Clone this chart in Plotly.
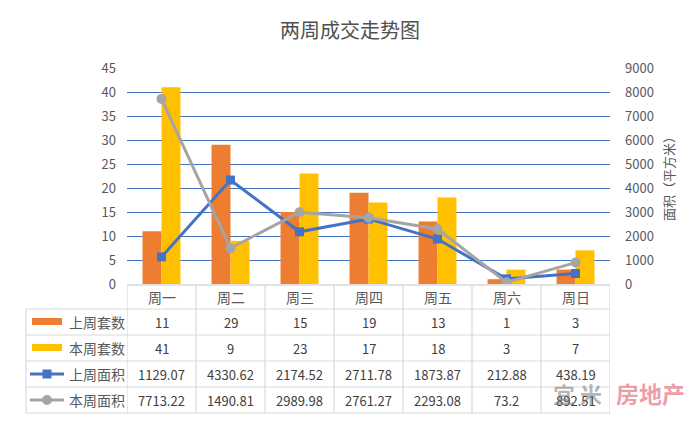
import plotly.graph_objects as go

categories = ["周一", "周二", "周三", "周四", "周五", "周六", "周日"]
last_week_units = [11, 29, 15, 19, 13, 1, 3]
this_week_units = [41, 9, 23, 17, 18, 3, 7]
last_week_area = [1129.07, 4330.62, 2174.52, 2711.78, 1873.87, 212.88, 438.19]
this_week_area = [7713.22, 1490.81, 2989.98, 2761.27, 2293.08, 73.2, 892.51]
series_names = ["上周套数", "本周套数", "上周面积", "本周面积"]
left_ticks = list(range(0, 50, 5))
right_ticks = list(range(0, 10000, 1000))

ORANGE = "#ED7D31"
YELLOW = "#FFC000"
BLUE = "#4472C4"
GRAY = "#A5A5A5"
TXT = "#595959"
FONT = "Noto Sans CJK SC"

# pixel geometry helpers (plot area: x 127..610, y 68..284)
PL, PR, PT, PB = 127, 610, 68, 284
def py(p):
    return (PB - p) / (PB - PT)
def px(p):
    return (p - PL) / (PR - PL)

fig = go.Figure()
fig.add_trace(go.Bar(x=categories, y=last_week_units, name=series_names[0],
                     marker=dict(color=ORANGE, line=dict(width=0)), yaxis="y"))
fig.add_trace(go.Bar(x=categories, y=this_week_units, name=series_names[1],
                     marker=dict(color=YELLOW, line=dict(width=0)), yaxis="y"))
fig.add_trace(go.Scatter(x=categories, y=last_week_area, name=series_names[2], mode="lines+markers",
                         line=dict(color=BLUE, width=3),
                         marker=dict(symbol="square", size=9, color=BLUE), yaxis="y2"))
fig.add_trace(go.Scatter(x=categories, y=this_week_area, name=series_names[3], mode="lines+markers",
                         line=dict(color=GRAY, width=3),
                         marker=dict(symbol="circle", size=10, color=GRAY), yaxis="y2"))

shapes = []
annotations = []
GRID = "#D9D9D9"
row_edges = [285, 309, 335, 361, 387, 413]
# horizontal lines
shapes.append(dict(type="line", xref="x", yref="paper", x0=-0.5, x1=6.5, y0=py(285), y1=py(285),
                   line=dict(color=GRID, width=1.5), layer="above"))
for e in row_edges[1:]:
    shapes.append(dict(type="line", xref="paper", yref="paper", x0=px(26), x1=1, y0=py(e), y1=py(e),
                       line=dict(color=GRID, width=1.2), layer="above"))
# vertical lines
for k in range(8):
    shapes.append(dict(type="line", xref="x", yref="paper", x0=k - 0.5, x1=k - 0.5, y0=py(285), y1=py(413),
                       line=dict(color=GRID, width=1.2), layer="above"))
shapes.append(dict(type="line", xref="paper", yref="paper", x0=px(26), x1=px(26), y0=py(309), y1=py(413),
                   line=dict(color=GRID, width=1.2), layer="above"))

# header row
for i, c in enumerate(categories):
    annotations.append(dict(x=c, xref="x", y=py(297), yref="paper", text=c, showarrow=False,
                            font=dict(size=14, color=TXT, family=FONT), xanchor="center", yanchor="middle"))
# data rows
rows = [last_week_units, this_week_units, last_week_area, this_week_area]
centers = [322, 348, 374, 400]
for r, (vals, cy) in enumerate(zip(rows, centers)):
    for c, v in zip(categories, vals):
        annotations.append(dict(x=c, xref="x", y=py(cy), yref="paper", text=f"{v:g}", showarrow=False,
                                font=dict(size=13, color="#404040", family=FONT),
                                xanchor="center", yanchor="middle"))
    annotations.append(dict(x=px(67), xref="paper", y=py(cy), yref="paper", text=series_names[r],
                            showarrow=False, font=dict(size=14, color=TXT, family=FONT),
                            xanchor="left", yanchor="middle"))

# legend keys
shapes.append(dict(type="rect", xref="paper", yref="paper", x0=px(32), x1=px(62), y0=py(325), y1=py(318),
                   fillcolor=ORANGE, line=dict(width=0)))
shapes.append(dict(type="rect", xref="paper", yref="paper", x0=px(32), x1=px(62), y0=py(351), y1=py(344),
                   fillcolor=YELLOW, line=dict(width=0)))
shapes.append(dict(type="line", xref="paper", yref="paper", x0=px(30), x1=px(64), y0=py(374), y1=py(374),
                   line=dict(color=BLUE, width=3)))
shapes.append(dict(type="rect", xref="paper", yref="paper", x0=px(42.5), x1=px(51.5), y0=py(378.5), y1=py(369.5),
                   fillcolor=BLUE, line=dict(width=0)))
shapes.append(dict(type="line", xref="paper", yref="paper", x0=px(30), x1=px(64), y0=py(400), y1=py(400),
                   line=dict(color=GRAY, width=3)))
shapes.append(dict(type="circle", xref="paper", yref="paper", x0=px(42), x1=px(52), y0=py(405), y1=py(395),
                   fillcolor=GRAY, line=dict(width=0)))

# right axis title
annotations.append(dict(x=px(668), xref="paper", y=py(176), yref="paper", text="面积（平方米）", textangle=-90,
                        showarrow=False, font=dict(size=13, color=TXT, family=FONT),
                        xanchor="center", yanchor="middle"))
# watermark
annotations.append(dict(x=px(577), xref="paper", y=py(393), yref="paper", text="<b>宜 米</b>",
                        showarrow=False, font=dict(size=22, color="rgba(110,110,110,0.5)", family=FONT),
                        xanchor="center", yanchor="middle"))
annotations.append(dict(x=px(650), xref="paper", y=py(393), yref="paper", text="<b>房地产</b>",
                        showarrow=False, font=dict(size=23, color="rgba(226,90,110,0.6)", family=FONT),
                        xanchor="center", yanchor="middle"))

fig.update_layout(
    width=700, height=424,
    margin=dict(l=PL, r=700 - PR, t=PT, b=424 - PB, pad=0),
    paper_bgcolor="white", plot_bgcolor="white",
    showlegend=False,
    barmode="group", bargap=0.45, bargroupgap=0,
    title=dict(text="两周成交走势图", x=0.5, xanchor="center", y=1 - 31 / 424, yanchor="middle",
               font=dict(size=20, color="#505050", family=FONT)),
    font=dict(family=FONT, color=TXT),
    xaxis=dict(type="category", range=[-0.5, 6.5], showticklabels=False, showgrid=False,
               zeroline=False, showline=False, ticks=""),
    yaxis=dict(range=[0, 45], tickvals=left_ticks, showgrid=True, gridcolor=BLUE, gridwidth=1.3,
               zeroline=False, showline=False, ticks="", ticklabelstandoff=10,
               tickfont=dict(size=13, color=TXT, family=FONT)),
    yaxis2=dict(range=[0, 9000], tickvals=right_ticks, overlaying="y", side="right", showgrid=False,
                zeroline=False, showline=False, ticks="", ticklabelstandoff=14,
                tickfont=dict(size=13, color=TXT, family=FONT)),
    shapes=shapes,
    annotations=annotations,
)

fig.write_html("out.html", config={"displayModeBar": False},
               post_script="document.body.style.margin='0';document.body.style.padding='0';")
